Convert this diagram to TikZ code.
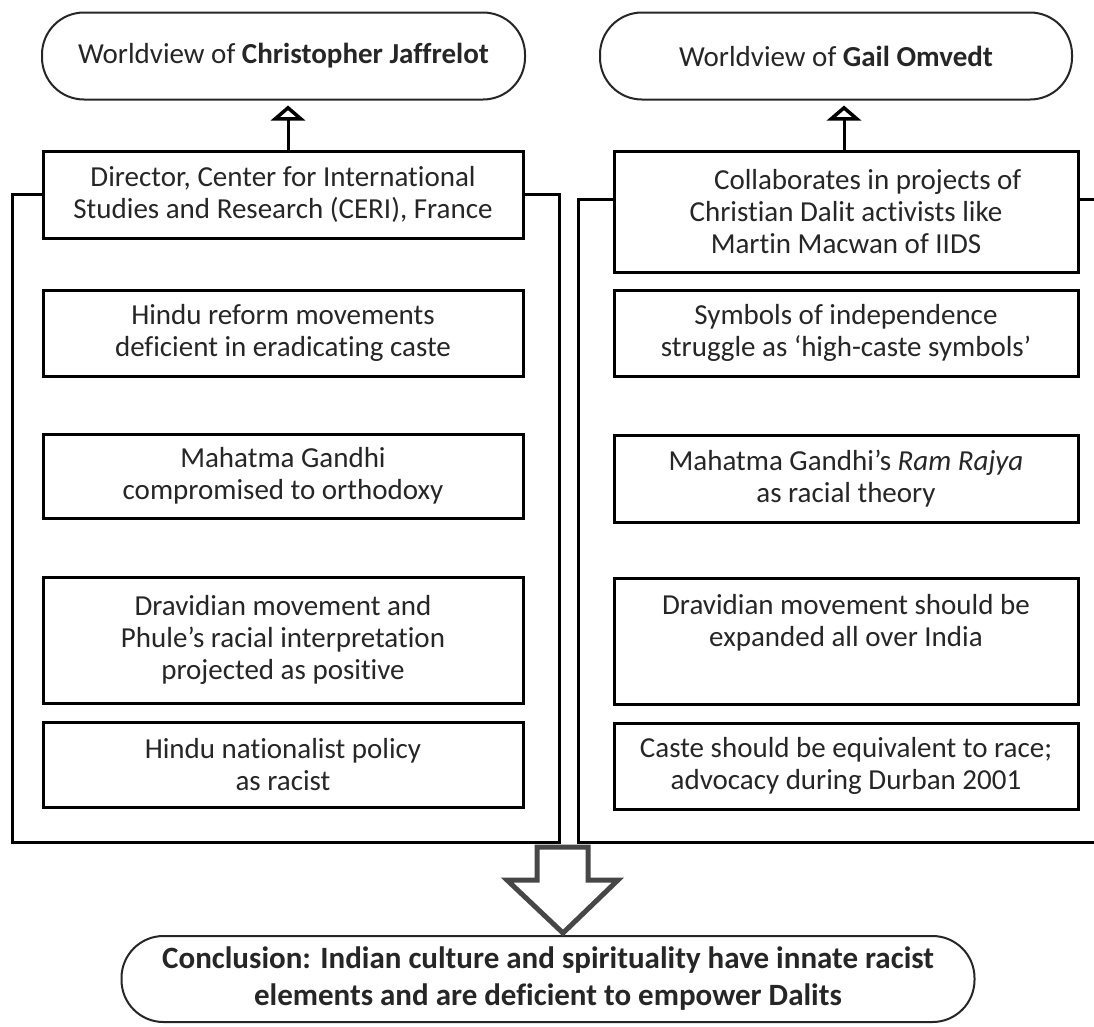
\documentclass[tikz,border=0pt]{standalone}
\usepackage{fontspec}
\setmainfont{Carlito}[Ligatures=NoCommon]
\usetikzlibrary{arrows.meta}

\tikzset{
  txt/.style={font=\fontsize{29}{32}\selectfont, align=center, text=black!85},
  stadium/.style={txt, draw=black!85, line width=2pt, rounded corners=42pt, fill=white},
  itembox/.style={txt, draw=black, line width=3pt, inner sep=0pt},
  frameline/.style={draw=black, line width=3pt},
  uplink/.style={draw=black, line width=3pt, shorten >=5pt,
    -{Triangle[open, length=15pt, width=34pt, line width=3.5pt]}},
  bigarrow/.style={draw=black!72, line width=5pt, fill=white, line join=miter}
}

\begin{document}
\begin{tikzpicture}[x=1pt, y=-1pt]
  \useasboundingbox[fill=white] (0,0) rectangle (1094,1026);

  % headline ovals
  \node[stadium, minimum width=483pt, minimum height=87pt] (wvL) at (283.5,56)
    {Worldview of \textbf{Christopher Jaffrelot}};
  \node[stadium, minimum width=472pt, minimum height=87pt] (wvR) at (836,56)
    {Worldview of \textbf{Gail Omvedt}};

  % left column
  \node[itembox, minimum width=480pt, minimum height=87pt] (dir) at (283,194.5)
    {Director, Center for International\\Studies and Research (CERI), France};
  \node[itembox, minimum width=480pt, minimum height=86pt] (lA) at (283,333)
    {Hindu reform movements\\deficient in eradicating caste};
  \node[itembox, minimum width=480pt, minimum height=84pt] (lB) at (283,476)
    {Mahatma Gandhi\\compromised to orthodoxy};
  \node[itembox, minimum width=480pt, minimum height=126pt] (lC) at (283,640)
    {Dravidian movement and\\Phule’s racial interpretation\\projected as positive};
  \node[itembox, minimum width=480pt, minimum height=85pt] (lD) at (283,765)
    {Hindu nationalist policy\\as racist};

  % right column
  \node[itembox, minimum width=464pt, minimum height=121pt] (col) at (846,211.5)
    {\hspace*{1.5em}Collaborates in projects of\\Christian Dalit activists like\\Martin Macwan of IIDS};
  \node[itembox, minimum width=464pt, minimum height=86pt] (rA) at (846,333)
    {Symbols of independence\\struggle as ‘high-caste symbols’};
  \node[itembox, minimum width=464pt, minimum height=87pt] (rB) at (846,479)
    {Mahatma Gandhi’s \textit{Ram Rajya}\\as racial theory};
  \node[itembox, minimum width=464pt, minimum height=126pt] (rC) at (846,641)
    {Dravidian movement should be\\expanded all over India\\\strut};
  \node[itembox, minimum width=464pt, minimum height=86pt] (rD) at (846,766)
    {Caste should be equivalent to race;\\advocacy during Durban 2001};

  % conclusion
  \node[stadium, line width=2pt, minimum width=853pt, minimum height=86pt,
        font=\fontsize{31}{37}\selectfont\bfseries] (conc) at (548,979)
    {Conclusion: Indian culture and spirituality have innate racist\\elements and are deficient to empower Dalits};

  % links to the headline ovals
  \draw[uplink] ([xshift=5pt]dir.north) -- ([xshift=5pt]dir.north |- wvL.south);
  \draw[uplink] ([xshift=-2pt]col.north) -- ([xshift=-2pt]col.north |- wvR.south);

  % enclosing frames
  \coordinate (lfL) at (12,194.5);
  \coordinate (lfR) at (559,194.5);
  \draw[frameline] (dir.west) -- (lfL) -- (12,842) -- (559,842) -- (lfR) -- (dir.east);
  \coordinate (rfL) at (578,199);
  \coordinate (rfR) at (1094,199);
  \draw[frameline] ([yshift=12.5pt]col.west) -- (rfL) -- (578,842) -- (1094,842);
  \draw[frameline] ([yshift=12.5pt]col.east) -- (rfR);

  % hollow arrow into the conclusion
  \draw[bigarrow] (537,847) -- (588,847) -- (588,880) -- (618,880) -- (563,933)
    -- (507,880) -- (537,880) -- cycle;
\end{tikzpicture}
\end{document}
